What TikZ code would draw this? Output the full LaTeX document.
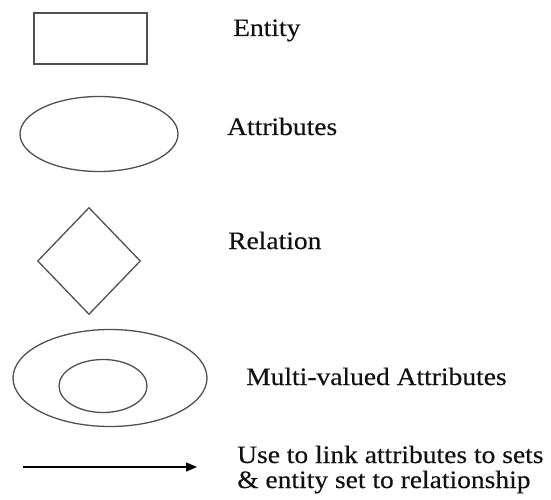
\documentclass[tikz,border=0pt]{standalone}
\usepackage{fontspec}
\setmainfont{Liberation Serif}[FakeStretch=1.1, FakeBold=0.35]
\usetikzlibrary{shapes.geometric,arrows.meta}

\definecolor{shapeline}{HTML}{505050}
\definecolor{labeltext}{HTML}{111111}

\tikzset{
  symbol/.style={draw=shapeline, line width=1.3pt, inner sep=0pt, fill=none},
  entitybox/.style={symbol, rectangle, minimum width=113pt, minimum height=51pt},
  attrshape/.style={symbol, ellipse},
  relshape/.style={symbol, diamond, minimum width=103pt, minimum height=107pt},
  legendlabel/.style={anchor=base west, inner sep=0pt, text=labeltext,
    font=\fontsize{25}{25}\selectfont, align=left},
  linkarrow/.style={draw=black, line width=1.3pt, -{Triangle[length=11pt, width=9pt]}}
}

\begin{document}
\begin{tikzpicture}[x=1pt, y=-1pt]
  \useasboundingbox (0,0) rectangle (551,500);

  % Entity
  \node[entitybox] (entity) at (90.5,38.5) {};
  \node[legendlabel] (entitylbl) at (233,36) {Entity};

  % Attribute
  \node[attrshape, minimum width=158pt, minimum height=75pt] (attr) at (99,134) {};
  \node[legendlabel] (attrlbl) at (227,135) {Attributes};

  % Relationship
  \node[relshape] (rel) at (89,261) {};
  \node[legendlabel] (rellbl) at (228,249) {Relation};

  % Multi-valued attribute: ellipse inside an ellipse
  \node[attrshape, minimum width=194pt, minimum height=97pt] (multiouter) at (110,378) {};
  \node[attrshape, minimum width=88pt, minimum height=53pt] (multiinner) at (103,386) {};
  \node[legendlabel] (multilbl) at (246,385) {Multi-valued Attributes};

  % Link (the label's base anchor sits on its last line)
  \coordinate (linkstart) at (23,467);
  \coordinate (linkend) at (197,467);
  \draw[linkarrow] (linkstart) -- (linkend);
  \node[legendlabel] (linklbl) at (237,488) {Use to link attributes to sets\\\& entity set to relationship};
\end{tikzpicture}
\end{document}
